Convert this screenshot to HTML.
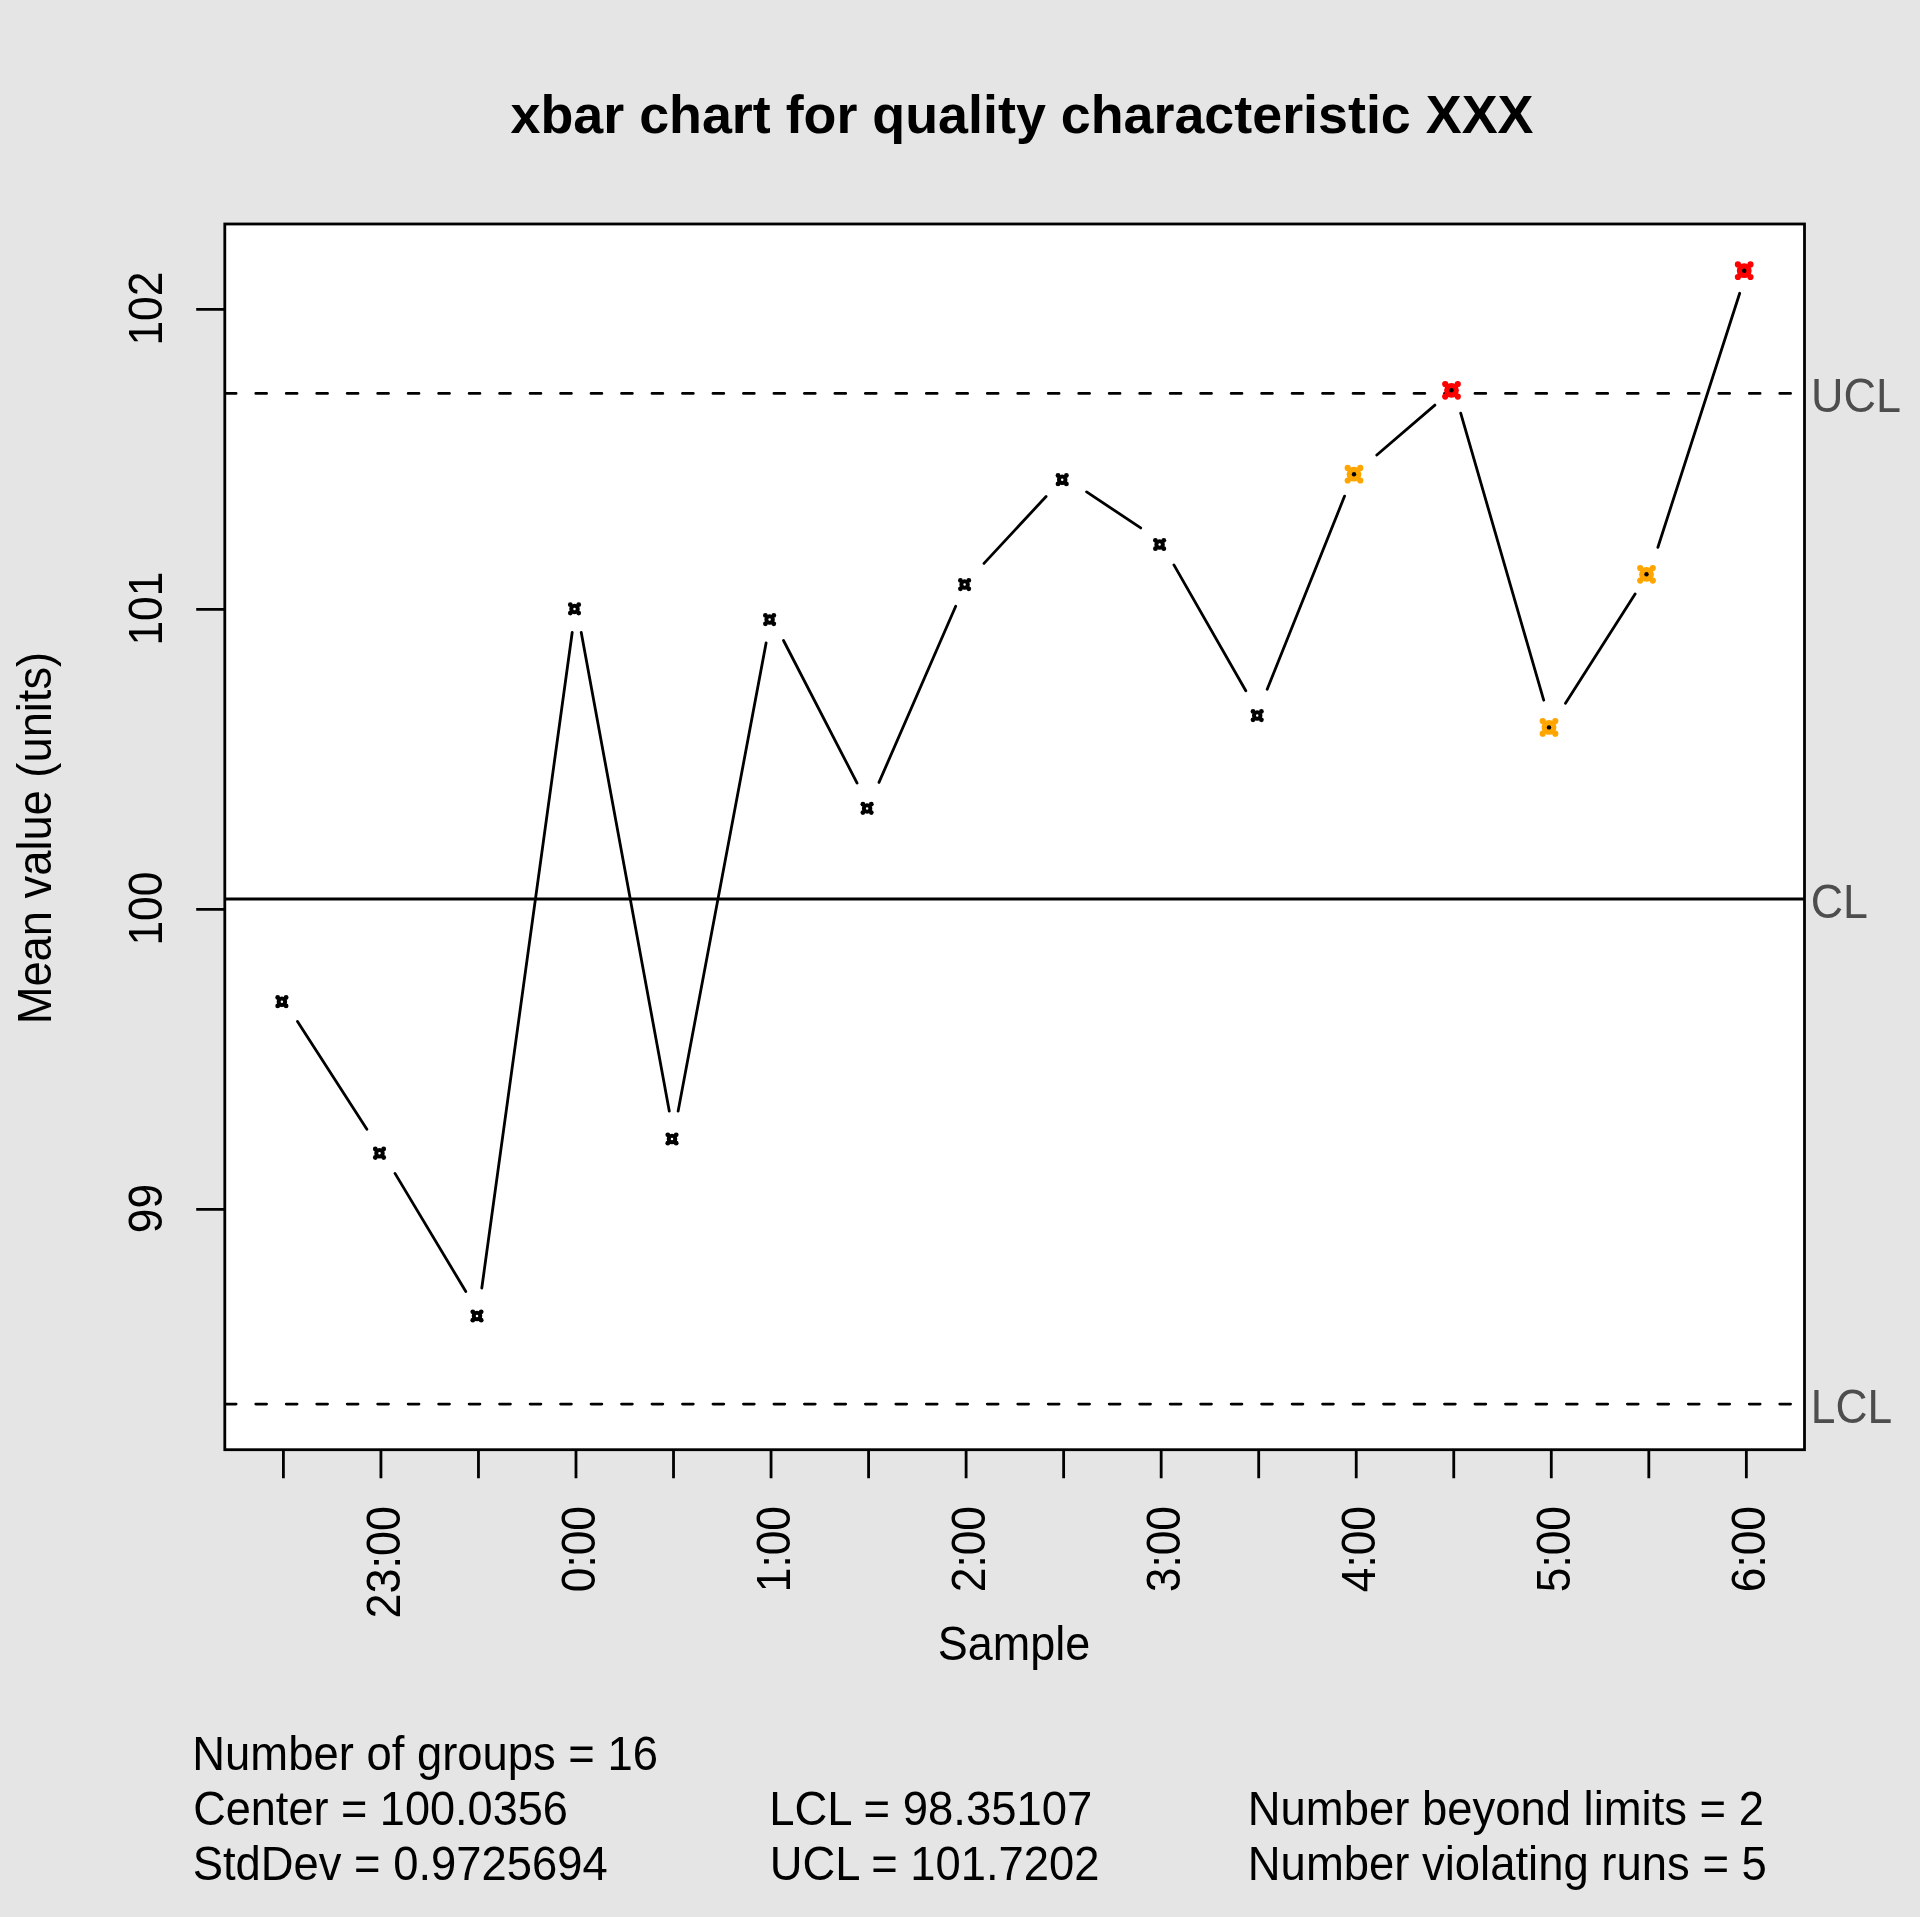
<!DOCTYPE html>
<html><head><meta charset="utf-8"><title>xbar chart for quality characteristic XXX</title><style>
html,body{margin:0;padding:0;background:#E5E5E5;overflow:hidden;width:1920px;height:1917px}
svg{display:block;position:absolute;left:0;top:0}
text{font-family:"Liberation Sans",sans-serif;fill:#000}
svg.tx{will-change:transform}
</style></head><body>
<svg width="1920" height="1917" viewBox="0 0 1920 1917">
<rect x="0" y="0" width="1920" height="1917" fill="#E5E5E5"/>
<rect x="224.8" y="224.0" width="1579.7" height="1225.7" fill="#FFFFFF"/>
<path d="M224.8 899.0H1804.5" stroke="#000" stroke-width="2.8"/>
<path d="M224.8 393.4H1804.5M224.8 1404.1H1804.5" stroke="#000" stroke-width="2.8" stroke-dasharray="10.8 19.68" stroke-dashoffset="-0.5" stroke-linecap="round"/>
<path d="M297.5 1021.4L366.9 1129.2M395.0 1173.4L465.8 1291.5M481.8 1288.0L572.2 632.5M581.2 632.3L669.3 1111.2M678.1 1111.2L766.1 643.0M783.5 640.5L857.1 783.1M879.0 782.4L955.7 606.2M984.0 563.4L1046.1 496.5M1086.6 491.9L1140.7 527.9M1173.9 564.9L1245.8 690.8M1267.2 689.3L1344.6 496.1M1376.8 455.0L1434.9 405.1M1460.7 413.1L1543.7 700.2M1565.5 703.3L1635.1 594.0M1657.9 547.3L1739.7 293.3" stroke="#000" stroke-width="2.8" fill="none" stroke-linecap="round"/>
<g fill="#000"><circle cx="281.9" cy="1001.7" r="3.25" fill="none" stroke="#000" stroke-width="4"/><circle cx="277.7" cy="997.5" r="2.4"/><circle cx="277.7" cy="1005.9" r="2.4"/><circle cx="286.1" cy="997.5" r="2.4"/><circle cx="286.1" cy="1005.9" r="2.4"/></g>
<g fill="#000"><circle cx="379.5" cy="1153.25" r="3.25" fill="none" stroke="#000" stroke-width="4"/><circle cx="375.3" cy="1149.0" r="2.4"/><circle cx="375.3" cy="1157.5" r="2.4"/><circle cx="383.7" cy="1149.0" r="2.4"/><circle cx="383.7" cy="1157.5" r="2.4"/></g>
<g fill="#000"><circle cx="477.0" cy="1316.0" r="3.25" fill="none" stroke="#000" stroke-width="4"/><circle cx="472.8" cy="1311.8" r="2.4"/><circle cx="472.8" cy="1320.2" r="2.4"/><circle cx="481.2" cy="1311.8" r="2.4"/><circle cx="481.2" cy="1320.2" r="2.4"/></g>
<g fill="#000"><circle cx="574.5" cy="608.9" r="3.25" fill="none" stroke="#000" stroke-width="4"/><circle cx="570.3" cy="604.7" r="2.4"/><circle cx="570.3" cy="613.1" r="2.4"/><circle cx="578.7" cy="604.7" r="2.4"/><circle cx="578.7" cy="613.1" r="2.4"/></g>
<g fill="#000"><circle cx="672.0" cy="1139.0" r="3.25" fill="none" stroke="#000" stroke-width="4"/><circle cx="667.8" cy="1134.8" r="2.4"/><circle cx="667.8" cy="1143.2" r="2.4"/><circle cx="676.2" cy="1134.8" r="2.4"/><circle cx="676.2" cy="1143.2" r="2.4"/></g>
<g fill="#000"><circle cx="769.6" cy="619.6" r="3.25" fill="none" stroke="#000" stroke-width="4"/><circle cx="765.4" cy="615.4" r="2.4"/><circle cx="765.4" cy="623.8" r="2.4"/><circle cx="773.8" cy="615.4" r="2.4"/><circle cx="773.8" cy="623.8" r="2.4"/></g>
<g fill="#000"><circle cx="867.1" cy="808.4" r="3.25" fill="none" stroke="#000" stroke-width="4"/><circle cx="862.9" cy="804.2" r="2.4"/><circle cx="862.9" cy="812.6" r="2.4"/><circle cx="871.3" cy="804.2" r="2.4"/><circle cx="871.3" cy="812.6" r="2.4"/></g>
<g fill="#000"><circle cx="964.6" cy="584.6" r="3.25" fill="none" stroke="#000" stroke-width="4"/><circle cx="960.4" cy="580.4" r="2.4"/><circle cx="960.4" cy="588.8" r="2.4"/><circle cx="968.8" cy="580.4" r="2.4"/><circle cx="968.8" cy="588.8" r="2.4"/></g>
<g fill="#000"><circle cx="1062.2" cy="479.7" r="3.25" fill="none" stroke="#000" stroke-width="4"/><circle cx="1058.0" cy="475.5" r="2.4"/><circle cx="1058.0" cy="483.9" r="2.4"/><circle cx="1066.4" cy="475.5" r="2.4"/><circle cx="1066.4" cy="483.9" r="2.4"/></g>
<g fill="#000"><circle cx="1159.6" cy="544.5" r="3.25" fill="none" stroke="#000" stroke-width="4"/><circle cx="1155.4" cy="540.3" r="2.4"/><circle cx="1155.4" cy="548.7" r="2.4"/><circle cx="1163.8" cy="540.3" r="2.4"/><circle cx="1163.8" cy="548.7" r="2.4"/></g>
<g fill="#000"><circle cx="1257.2" cy="715.6" r="3.25" fill="none" stroke="#000" stroke-width="4"/><circle cx="1253.0" cy="711.4" r="2.4"/><circle cx="1253.0" cy="719.8" r="2.4"/><circle cx="1261.4" cy="711.4" r="2.4"/><circle cx="1261.4" cy="719.8" r="2.4"/></g>
<g fill="#FFA500"><circle cx="1354.0" cy="474.2" r="7.4"/><circle cx="1347.7" cy="467.9" r="3.1"/><circle cx="1347.7" cy="480.5" r="3.1"/><circle cx="1360.3" cy="467.9" r="3.1"/><circle cx="1360.3" cy="480.5" r="3.1"/><circle cx="1354.0" cy="474.2" r="2.2" fill="#000"/></g>
<g fill="#FF0000"><circle cx="1451.5" cy="390.3" r="7.4"/><circle cx="1445.2" cy="384.0" r="3.1"/><circle cx="1445.2" cy="396.6" r="3.1"/><circle cx="1457.8" cy="384.0" r="3.1"/><circle cx="1457.8" cy="396.6" r="3.1"/><circle cx="1451.5" cy="390.3" r="2.2" fill="#000"/></g>
<g fill="#FFA500"><circle cx="1549.0" cy="727.4" r="7.4"/><circle cx="1542.7" cy="721.1" r="3.1"/><circle cx="1542.7" cy="733.7" r="3.1"/><circle cx="1555.3" cy="721.1" r="3.1"/><circle cx="1555.3" cy="733.7" r="3.1"/><circle cx="1549.0" cy="727.4" r="2.2" fill="#000"/></g>
<g fill="#FFA500"><circle cx="1646.5" cy="574.3" r="7.4"/><circle cx="1640.2" cy="568.0" r="3.1"/><circle cx="1640.2" cy="580.6" r="3.1"/><circle cx="1652.8" cy="568.0" r="3.1"/><circle cx="1652.8" cy="580.6" r="3.1"/><circle cx="1646.5" cy="574.3" r="2.2" fill="#000"/></g>
<g fill="#FF0000"><circle cx="1744.2" cy="270.7" r="7.4"/><circle cx="1737.9" cy="264.4" r="3.1"/><circle cx="1737.9" cy="277.0" r="3.1"/><circle cx="1750.5" cy="264.4" r="3.1"/><circle cx="1750.5" cy="277.0" r="3.1"/><circle cx="1744.2" cy="270.7" r="2.2" fill="#000"/></g>
<rect x="224.8" y="224.0" width="1579.7" height="1225.7" fill="none" stroke="#000" stroke-width="2.8"/>
<path d="M196.2 1209.4H224.8M196.2 909.4H224.8M196.2 609.4H224.8M196.2 309.4H224.8M283.40 1449.7V1478.2M380.93 1449.7V1478.2M478.46 1449.7V1478.2M575.99 1449.7V1478.2M673.52 1449.7V1478.2M771.05 1449.7V1478.2M868.58 1449.7V1478.2M966.11 1449.7V1478.2M1063.64 1449.7V1478.2M1161.17 1449.7V1478.2M1258.70 1449.7V1478.2M1356.23 1449.7V1478.2M1453.76 1449.7V1478.2M1551.29 1449.7V1478.2M1648.82 1449.7V1478.2M1746.35 1449.7V1478.2" stroke="#000" stroke-width="2.8"/>
</svg>
<svg class="tx" width="1920" height="1917" viewBox="0 0 1920 1917">
<text transform="translate(161.5 1208.60) rotate(-90) scale(0.9228 1)" text-anchor="middle" style="font-size:48px">99</text>
<text transform="translate(161.5 908.60) rotate(-90) scale(0.9228 1)" text-anchor="middle" style="font-size:48px">100</text>
<text transform="translate(161.5 608.60) rotate(-90) scale(0.9228 1)" text-anchor="middle" style="font-size:48px">101</text>
<text transform="translate(161.5 308.60) rotate(-90) scale(0.9228 1)" text-anchor="middle" style="font-size:48px">102</text>
<text transform="translate(399.93 1506.0) rotate(-90) scale(0.9363 1)" text-anchor="end" style="font-size:48px">23:00</text>
<text transform="translate(594.99 1506.0) rotate(-90) scale(0.9231 1)" text-anchor="end" style="font-size:48px">0:00</text>
<text transform="translate(790.05 1506.0) rotate(-90) scale(0.9231 1)" text-anchor="end" style="font-size:48px">1:00</text>
<text transform="translate(985.11 1506.0) rotate(-90) scale(0.9231 1)" text-anchor="end" style="font-size:48px">2:00</text>
<text transform="translate(1180.17 1506.0) rotate(-90) scale(0.9231 1)" text-anchor="end" style="font-size:48px">3:00</text>
<text transform="translate(1375.23 1506.0) rotate(-90) scale(0.9231 1)" text-anchor="end" style="font-size:48px">4:00</text>
<text transform="translate(1570.29 1506.0) rotate(-90) scale(0.9231 1)" text-anchor="end" style="font-size:48px">5:00</text>
<text transform="translate(1765.35 1506.0) rotate(-90) scale(0.9231 1)" text-anchor="end" style="font-size:48px">6:00</text>
<text transform="translate(510.50 133.40) scale(0.9876 1)" style="font-size:54.5px;font-weight:bold">xbar chart for quality characteristic XXX</text>
<text transform="translate(937.83 1660.20) scale(0.9363 1)" style="font-size:48px">Sample</text>
<text transform="translate(50.90 1024.27) rotate(-90) scale(0.9338 1)" style="font-size:48.5px">Mean value (units)</text>
<text transform="translate(1810.98 412.00) scale(0.9271 1)" style="font-size:48.5px;fill:#4D4D4D">UCL</text>
<text transform="translate(1810.64 917.80) scale(0.9226 1)" style="font-size:48.5px;fill:#4D4D4D">CL</text>
<text transform="translate(1810.78 1422.70) scale(0.9147 1)" style="font-size:48.5px;fill:#4D4D4D">LCL</text>
<text transform="translate(192.29 1769.90) scale(0.9268 1)" style="font-size:49px">Number of groups = 16</text>
<text transform="translate(193.17 1824.90) scale(0.9202 1)" style="font-size:49px">Center = 100.0356</text>
<text transform="translate(192.64 1880.00) scale(0.9263 1)" style="font-size:49px">StdDev = 0.9725694</text>
<text transform="translate(769.24 1824.90) scale(0.9277 1)" style="font-size:49px">LCL = 98.35107</text>
<text transform="translate(769.73 1880.00) scale(0.9254 1)" style="font-size:49px">UCL = 101.7202</text>
<text transform="translate(1247.80 1824.90) scale(0.9271 1)" style="font-size:49px">Number beyond limits = 2</text>
<text transform="translate(1247.80 1880.00) scale(0.9274 1)" style="font-size:49px">Number violating runs = 5</text>
</svg>
</body></html>
